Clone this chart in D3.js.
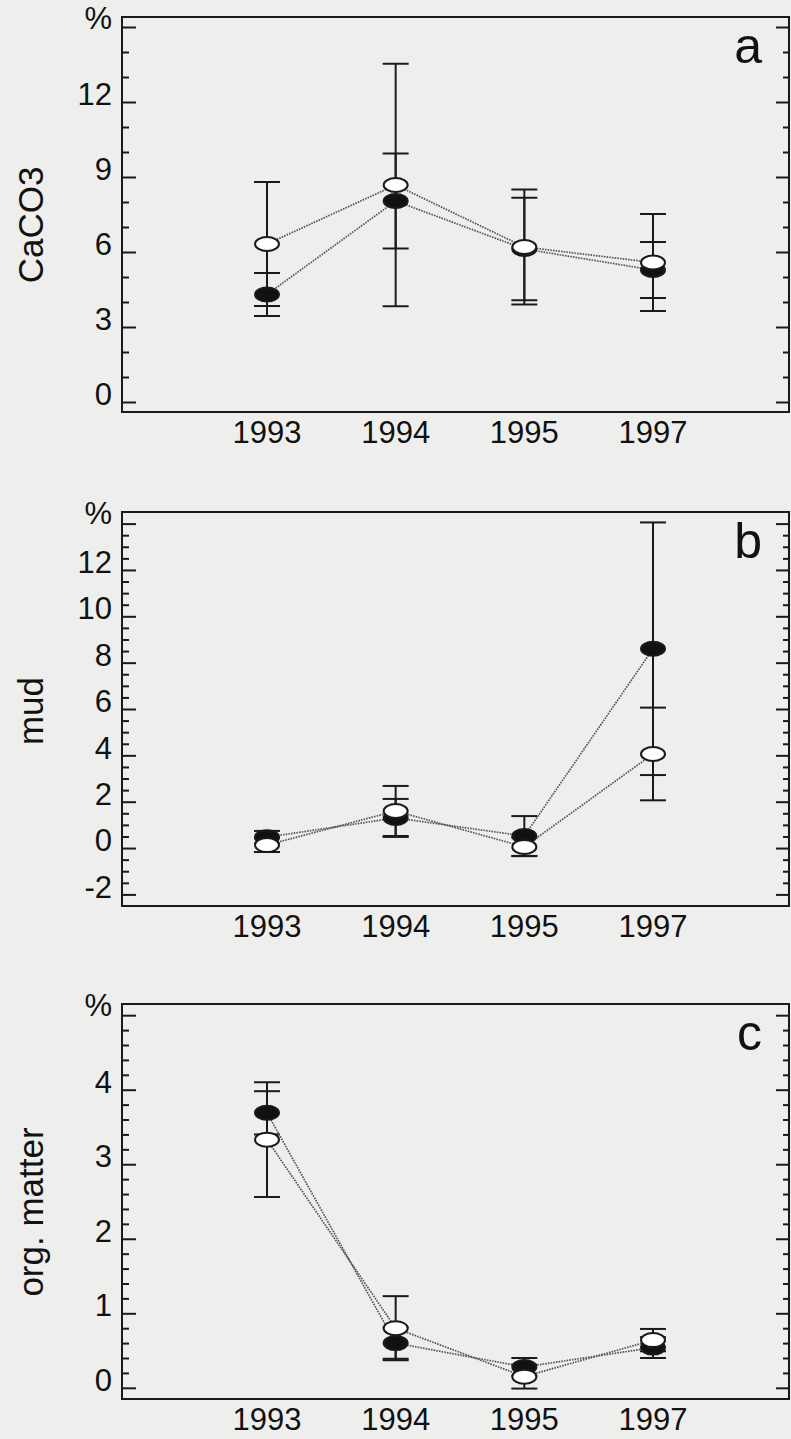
<!DOCTYPE html>
<html>
<head>
<meta charset="utf-8">
<script src="https://cdn.jsdelivr.net/npm/d3@7"></script>
<style>
  html, body { margin: 0; padding: 0; background: #eeefed; }
  svg { display: block; }
  text { font-family: "Liberation Sans", Arial, Helvetica, sans-serif; fill: #111; }
</style>
</head>
<body>
<svg id="chart" width="791" height="1439"></svg>
<script>
// Sampling years (x categories)
const years = ["1993", "1994", "1995", "1997"];

// Panel a: CaCO3 (%), filled and open symbols, mean and half-range of error bar
const caco3Filled    = [4.30, 8.04, 6.12, 5.28];
const caco3FilledErr = [0.86, 1.90, 2.05, 1.12];
const caco3Open      = [6.32, 8.68, 6.20, 5.58];
const caco3OpenErr   = [2.48, 4.85, 2.30, 1.94];

// Panel b: mud (%)
const mudFilled    = [0.47, 1.30, 0.52, 8.60];
const mudFilledErr = [0.27, 0.82, 0.86, 5.45];
const mudOpen      = [0.13, 1.60, 0.05, 4.06];
const mudOpenErr   = [0.30, 1.08, 0.40, 2.00];

// Panel c: organic matter (%)
const orgFilled    = [3.69, 0.60, 0.28, 0.54];
const orgFilledErr = [0.29, 0.21, 0.12, 0.14];
const orgOpen      = [3.33, 0.80, 0.15, 0.64];
const orgOpenErr   = [0.77, 0.43, 0.16, 0.15];

// Y-axis tick labels per panel
const caco3Labels = [0, 3, 6, 9, 12];
const mudLabels   = [-2, 0, 2, 4, 6, 8, 10, 12];
const orgLabels   = [0, 1, 2, 3, 4];

const panels = [
  { letter: "a", title: "CaCO3", top: 17, bottom: 412, domain: [-0.4, 15.4],
    majorStep: 3, minorStep: 1, majorMax: 15, majorMin: 0, labels: caco3Labels,
    filled: caco3Filled, filledErr: caco3FilledErr, open: caco3Open, openErr: caco3OpenErr,
    titleY: 225 },
  { letter: "b", title: "mud", top: 512, bottom: 906, domain: [-2.5, 14.5],
    majorStep: 2, minorStep: 0.5, majorMax: 14, majorMin: -2, labels: mudLabels,
    filled: mudFilled, filledErr: mudFilledErr, open: mudOpen, openErr: mudOpenErr,
    titleY: 711 },
  { letter: "c", title: "org. matter", top: 1004, bottom: 1399, domain: [-0.15, 5.15],
    majorStep: 1, minorStep: 0.2, majorMax: 5, majorMin: 0, labels: orgLabels,
    filled: orgFilled, filledErr: orgFilledErr, open: orgOpen, openErr: orgOpenErr,
    titleY: 1212 }
];

const svg = d3.select("#chart");
const left = 122, right = 789;
const x = d3.scalePoint().domain(years).range([267, 653]);

const ink = "#1a1a1a";
const capHalf = 13, rx = 12, ry = 7;
const majorLen = 14, minorLen = 7;
const tickFont = 31;

panels.forEach(p => {
  const y = d3.scaleLinear().domain(p.domain).range([p.bottom, p.top]);
  const g = svg.append("g");

  // Tick positions
  const nMinor = Math.round((p.majorMax - p.majorMin) / p.minorStep);
  const minorVals = d3.range(nMinor + 1).map(i => +(p.majorMin + i * p.minorStep).toFixed(4));
  const isMajor = v => Math.abs((v - p.majorMin) / p.majorStep - Math.round((v - p.majorMin) / p.majorStep)) < 1e-6;

  // Left and right axes with inward ticks
  const leftAxis = d3.axisRight(y).tickValues(minorVals).tickFormat("").tickSizeOuter(0)
    .tickSize(minorLen);
  const gl = g.append("g").attr("transform", `translate(${left},0)`).call(leftAxis);
  gl.selectAll(".tick line").attr("x2", d => isMajor(d) ? majorLen : minorLen);

  const rightAxis = d3.axisLeft(y).tickValues(minorVals).tickFormat("").tickSizeOuter(0)
    .tickSize(minorLen);
  const gr = g.append("g").attr("transform", `translate(${right},0)`).call(rightAxis);
  gr.selectAll(".tick line").attr("x2", d => isMajor(d) ? -majorLen + 1 : -minorLen + 1);

  [gl, gr].forEach(ax => {
    ax.select(".domain").remove();
    ax.selectAll(".tick line").attr("stroke", ink).attr("stroke-width", 2);
  });

  // Frame
  g.append("rect")
    .attr("x", left).attr("y", p.top)
    .attr("width", right - left).attr("height", p.bottom - p.top)
    .attr("fill", "none").attr("stroke", ink).attr("stroke-width", 2);

  // Y tick labels
  g.selectAll(".ylab").data(p.labels).join("text")
    .attr("class", "ylab")
    .attr("x", 112).attr("y", d => y(d) - 8)
    .attr("dy", "0.36em")
    .attr("text-anchor", "end")
    .attr("font-size", tickFont)
    .text(d => d);

  // Unit marker
  g.append("text")
    .attr("x", 112).attr("y", p.top + 1).attr("dy", "0.36em")
    .attr("text-anchor", "end").attr("font-size", tickFont)
    .text("%");

  // X tick labels
  g.selectAll(".xlab").data(years).join("text")
    .attr("class", "xlab")
    .attr("x", d => x(d)).attr("y", p.bottom + 31)
    .attr("text-anchor", "middle")
    .attr("font-size", tickFont)
    .text(d => d);

  // Axis title (rotated)
  g.append("text")
    .attr("transform", `translate(43,${p.titleY}) rotate(-90)`)
    .attr("text-anchor", "middle")
    .attr("font-size", 35)
    .text(p.title);

  // Panel letter
  g.append("text")
    .attr("x", 762).attr("y", p.top + 46)
    .attr("text-anchor", "end")
    .attr("font-size", 50)
    .text(p.letter);

  // Error bars for both series
  const series = [
    { vals: p.filled, errs: p.filledErr, fill: "#111" },
    { vals: p.open, errs: p.openErr, fill: "#ffffff" }
  ];

  series.forEach(s => {
    const eb = g.append("g");
    years.forEach((yr, i) => {
      const cx = x(yr), hi = y(s.vals[i] + s.errs[i]), lo = y(s.vals[i] - s.errs[i]);
      eb.append("line").attr("x1", cx).attr("x2", cx).attr("y1", hi).attr("y2", lo)
        .attr("stroke", ink).attr("stroke-width", 2);
      [hi, lo].forEach(yy => {
        eb.append("line").attr("x1", cx - capHalf).attr("x2", cx + capHalf)
          .attr("y1", yy).attr("y2", yy).attr("stroke", ink).attr("stroke-width", 2);
      });
    });
  });

  // Dotted connecting lines
  const line = d3.line().x((d, i) => x(years[i])).y(d => y(d));
  series.forEach(s => {
    g.append("path").datum(s.vals)
      .attr("d", line)
      .attr("fill", "none")
      .attr("stroke", "#555")
      .attr("stroke-width", 1.7)
      .attr("stroke-dasharray", "1.6 1.1");
  });

  // Symbols: filled first, open on top
  series.forEach(s => {
    g.selectAll(null).data(s.vals).join("ellipse")
      .attr("cx", (d, i) => x(years[i])).attr("cy", d => y(d))
      .attr("rx", rx).attr("ry", ry)
      .attr("fill", s.fill)
      .attr("stroke", ink).attr("stroke-width", 2);
  });
});
</script>
</body>
</html>
